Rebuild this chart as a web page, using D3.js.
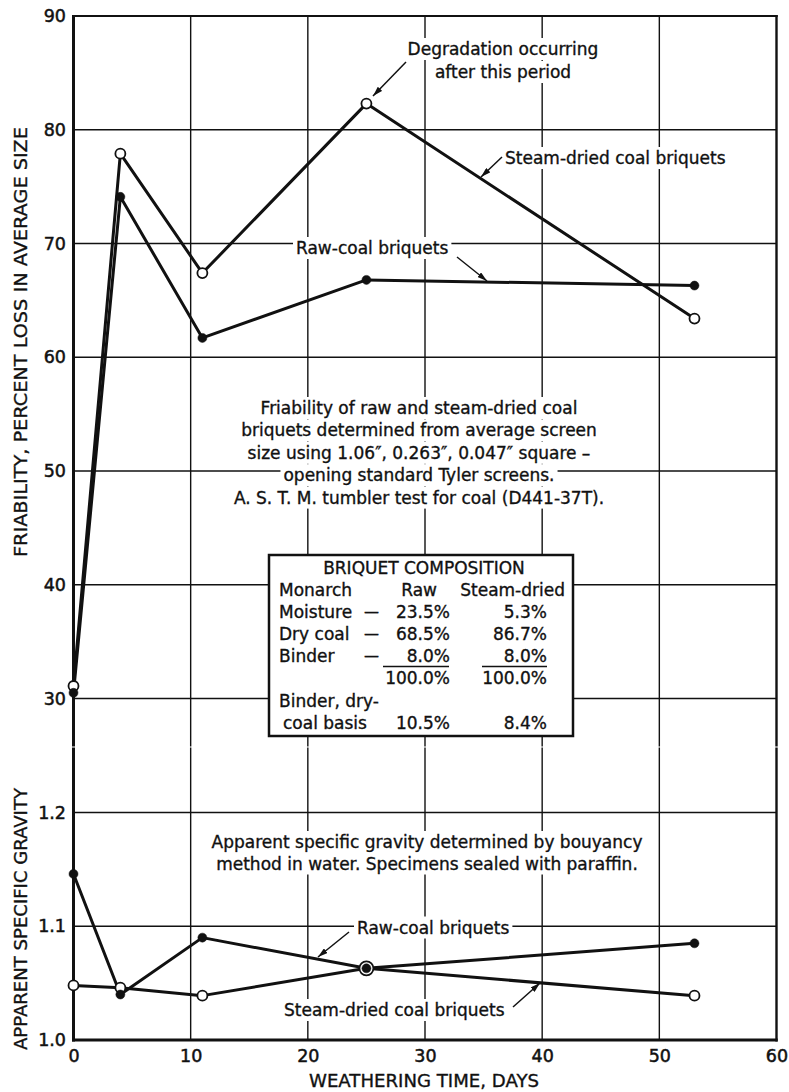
<!DOCTYPE html>
<html>
<head>
<meta charset="utf-8">
<script src="https://cdn.jsdelivr.net/npm/d3@7"></script>
<style>
  body { margin: 0; background: #fff; }
  svg { display: block; }
  text { font-family: "DejaVu Sans", "Liberation Sans", sans-serif; fill: #111; stroke: #111; stroke-width: 0.35px; }
</style>
</head>
<body>
<svg id="chart" width="789" height="1092"></svg>
<script>
// values
const days = [0, 4, 11, 25, 53];
const rawFriability = [30.5, 74.1, 61.7, 66.8, 66.3];
const steamFriability = [31.1, 77.9, 67.4, 82.3, 63.4];
const rawGravity = [1.146, 1.040, 1.090, 1.063, 1.085];
const steamGravity = [1.048, 1.046, 1.039, 1.063, 1.039];

const dayTicks = [0, 10, 20, 30, 40, 50, 60];
const friabilityTicks = [30, 40, 50, 60, 70, 80, 90];
const gravityTicks = [1.0, 1.1, 1.2];

const compositionTitle = 'BRIQUET COMPOSITION';
const compositionHeader = ['Monarch', 'Raw', 'Steam-dried'];
const compositionRows = [
  ['Moisture', '23.5%', '5.3%'],
  ['Dry coal', '68.5%', '86.7%'],
  ['Binder', '8.0%', '8.0%'],
  ['', '100.0%', '100.0%'],
];
const basisLabel = ['Binder, dry-', 'coal basis'];
const basisValues = ['10.5%', '8.4%'];

const friabilityNote = [
  'Friability of raw and steam-dried coal',
  'briquets determined from average screen',
  'size using 1.06\u2033, 0.263\u2033, 0.047\u2033 square \u2013',
  'opening standard Tyler screens.',
  'A. S. T. M. tumbler test for coal (D441-37T).',
];
const gravityNote = [
  'Apparent specific gravity determined by bouyancy',
  'method in water.  Specimens sealed with paraffin.',
];

class BriquetChart {
  constructor(svg) {
    this.svg = svg;
    this.x = d3.scaleLinear().domain([0, 60]).range([73.5, 776.5]);
    this.yTop = d3.scaleLinear().domain([30, 90]).range([698.5, 16]);
    this.yBot = d3.scaleLinear().domain([1.0, 1.2]).range([1040, 812.5]);

    let defs = svg.append('defs');
    defs.append('marker')
      .attr('id', 'head')
      .attr('viewBox', '0 0 10 6')
      .attr('refX', 10).attr('refY', 3)
      .attr('markerWidth', 10).attr('markerHeight', 6)
      .attr('markerUnits', 'userSpaceOnUse')
      .attr('orient', 'auto')
      .append('path')
      .attr('d', 'M0,0 L10,3 L0,6 Z')
      .attr('fill', '#111');

    this.gGrid = svg.append('g');
    this.gNotes = svg.append('g');
    this.gBox = svg.append('g');
    this.gData = svg.append('g');
    this.gAxes = svg.append('g');
  }

  drawGrid() {
    let x = this.x, yTop = this.yTop, yBot = this.yBot;
    let top = yTop(90), bottom = yBot(1.0);

    this.gGrid.selectAll('line.v')
      .data(dayTicks.slice(1, -1))
      .join('line')
      .attr('class', 'v')
      .attr('x1', d => x(d)).attr('x2', d => x(d))
      .attr('y1', top).attr('y2', bottom)
      .attr('stroke', '#111').attr('stroke-width', 1.4);

    this.gGrid.selectAll('line.ht')
      .data(friabilityTicks.slice(0, -1))
      .join('line')
      .attr('class', 'ht')
      .attr('x1', x(0)).attr('x2', x(60))
      .attr('y1', d => yTop(d)).attr('y2', d => yTop(d))
      .attr('stroke', '#111').attr('stroke-width', 1.4);

    this.gGrid.selectAll('line.hb')
      .data(gravityTicks.slice(1))
      .join('line')
      .attr('class', 'hb')
      .attr('x1', x(0)).attr('x2', x(60))
      .attr('y1', d => yBot(d)).attr('y2', d => yBot(d))
      .attr('stroke', '#111').attr('stroke-width', 1.4);

    // frame
    let frame = [
      { x1: x(0), y1: top - 1, x2: x(0), y2: bottom + 1.5, w: 3 },
      { x1: x(0) - 1.5, y1: bottom, x2: x(60) + 1.2, y2: bottom, w: 3 },
      { x1: x(0) - 1.5, y1: top, x2: x(60) + 1.2, y2: top, w: 2 },
      { x1: x(60), y1: top - 1, x2: x(60), y2: bottom + 1.5, w: 2.4 },
    ];
    this.gGrid.selectAll('line.frame')
      .data(frame)
      .join('line')
      .attr('class', 'frame')
      .attr('x1', d => d.x1).attr('y1', d => d.y1)
      .attr('x2', d => d.x2).attr('y2', d => d.y2)
      .attr('stroke', '#111').attr('stroke-width', d => d.w);

    // small break between the two panels
    this.gGrid.append('rect')
      .attr('x', x(0) - 3).attr('y', 746.5)
      .attr('width', x(60) - x(0) + 6).attr('height', 1)
      .attr('fill', '#fff');
  }

  note(parent, x, y, str, anchor = 'middle', pad = 3) {
    let t = parent.append('text')
      .attr('x', x).attr('y', y)
      .attr('text-anchor', anchor)
      .attr('font-size', 17)
      .text(str);
    let b = t.node().getBBox();
    parent.insert('rect', () => t.node())
      .attr('x', b.x - pad).attr('y', b.y - 1)
      .attr('width', b.width + pad * 2).attr('height', b.height + 2)
      .attr('fill', '#fff');
    return t;
  }

  drawNotes() {
    let g = this.gNotes;
    this.note(g, 503, 55, 'Degradation occurring');
    this.note(g, 503, 78, 'after this period');
    this.note(g, 505, 164, 'Steam-dried coal briquets', 'start');
    this.note(g, 296, 254, 'Raw-coal briquets', 'start');

    friabilityNote.forEach((s, i) => this.note(g, 419, 414 + i * 22.4, s));
    gravityNote.forEach((s, i) => this.note(g, 427, 848 + i * 21.5, s));

    this.note(g, 357, 933.5, 'Raw-coal briquets', 'start');
    this.note(g, 284, 1016, 'Steam-dried coal briquets', 'start');

    let arrows = [
      [406, 62, 373, 96],
      [502, 157, 481, 177],
      [457, 257, 487, 281],
      [349, 932, 318, 957],
      [513, 1007, 540, 983],
    ];
    this.gAxes.selectAll('line.arrow')
      .data(arrows)
      .join('line')
      .attr('class', 'arrow')
      .attr('x1', d => d[0]).attr('y1', d => d[1])
      .attr('x2', d => d[2]).attr('y2', d => d[3])
      .attr('stroke', '#111').attr('stroke-width', 1.5)
      .attr('marker-end', 'url(#head)');
  }

  drawBox() {
    let g = this.gBox;
    g.append('rect')
      .attr('x', 269).attr('y', 555)
      .attr('width', 304).attr('height', 181)
      .attr('fill', '#fff')
      .attr('stroke', '#111').attr('stroke-width', 2.5);

    let cell = (x, y, s, anchor) => g.append('text')
      .attr('x', x).attr('y', y)
      .attr('text-anchor', anchor)
      .attr('font-size', 17)
      .text(s);

    cell(424, 574, compositionTitle, 'middle');
    cell(279, 595.5, compositionHeader[0], 'start');
    cell(437, 595.5, compositionHeader[1], 'end');
    cell(565, 595.5, compositionHeader[2], 'end');

    compositionRows.forEach((r, i) => {
      let y = 617.5 + i * 22;
      if (r[0]) {
        cell(279, y, r[0], 'start');
        cell(364, y - 1, '\u2014', 'start').attr('font-size', 15);
      }
      cell(450, y, r[1], 'end');
      cell(547, y, r[2], 'end');
    });

    // sum underlines
    [[383, 449], [482, 547]].forEach(([a, b]) => g.append('line')
      .attr('x1', a).attr('x2', b)
      .attr('y1', 666.5).attr('y2', 666.5)
      .attr('stroke', '#111').attr('stroke-width', 1.6));

    cell(279, 706.5, basisLabel[0], 'start');
    cell(283, 728.5, basisLabel[1], 'start');
    cell(450, 728.5, basisValues[0], 'end');
    cell(547, 728.5, basisValues[1], 'end');
  }

  drawSeries(values, yScale) {
    let pts = days.map((d, i) => [this.x(d), yScale(values[i])]);
    this.gData.append('path')
      .attr('d', d3.line()(pts))
      .attr('fill', 'none')
      .attr('stroke', '#111')
      .attr('stroke-width', 3)
      .attr('stroke-linejoin', 'round');
    return pts;
  }

  drawMarkers(pts, open) {
    this.gData.append('g')
      .selectAll('circle')
      .data(pts)
      .join('circle')
      .attr('cx', d => d[0]).attr('cy', d => d[1])
      .attr('r', open ? 5 : 4.5)
      .attr('fill', open ? '#fff' : '#111')
      .attr('stroke', '#111')
      .attr('stroke-width', open ? 1.8 : 0.5);
  }

  drawAxes() {
    let g = this.gAxes;
    let left = g.append('g')
      .attr('transform', `translate(${this.x(0)},0)`);
    left.append('g')
      .call(d3.axisLeft(this.yTop).tickValues(friabilityTicks).tickSize(0).tickPadding(7.5));
    left.append('g')
      .call(d3.axisLeft(this.yBot).tickValues(gravityTicks).tickSize(0).tickPadding(7.5)
        .tickFormat(d3.format('.1f')));
    g.append('g')
      .attr('transform', `translate(0,${this.yBot(1.0)})`)
      .call(d3.axisBottom(this.x).tickValues(dayTicks).tickSize(0).tickPadding(10));

    g.selectAll('.domain').remove();
    g.selectAll('.tick text')
      .attr('font-family', null)
      .attr('font-size', 17.5)
      .attr('fill', '#111')
      .style('stroke-width', '0.5px');

    g.append('text')
      .attr('x', 424).attr('y', 1087)
      .attr('text-anchor', 'middle')
      .attr('font-size', 17.5)
      .attr('textLength', 230)
      .attr('lengthAdjust', 'spacingAndGlyphs')
      .text('WEATHERING TIME, DAYS');

    g.append('text')
      .attr('transform', 'translate(27,342) rotate(-90)')
      .attr('text-anchor', 'middle')
      .attr('font-size', 17.5)
      .attr('textLength', 430)
      .attr('lengthAdjust', 'spacingAndGlyphs')
      .text('FRIABILITY, PERCENT LOSS IN AVERAGE SIZE');

    g.append('text')
      .attr('transform', 'translate(27,919) rotate(-90)')
      .attr('text-anchor', 'middle')
      .attr('font-size', 17.5)
      .attr('textLength', 262)
      .attr('lengthAdjust', 'spacingAndGlyphs')
      .text('APPARENT SPECIFIC GRAVITY');
  }

  render() {
    this.drawGrid();
    this.drawNotes();
    this.drawBox();
    let rawTop = this.drawSeries(rawFriability, this.yTop);
    let steamTop = this.drawSeries(steamFriability, this.yTop);
    let rawBot = this.drawSeries(rawGravity, this.yBot);
    let steamBot = this.drawSeries(steamGravity, this.yBot);
    this.drawMarkers(steamTop, true);
    this.drawMarkers(rawTop, false);
    // the coinciding point at 25 days is drawn as a ring round the dot
    this.gData.append('circle')
      .attr('cx', steamBot[3][0]).attr('cy', steamBot[3][1])
      .attr('r', 7).attr('fill', '#fff')
      .attr('stroke', '#111').attr('stroke-width', 1.8);
    this.drawMarkers(steamBot.filter((d, i) => i !== 3), true);
    this.drawMarkers(rawBot, false);
    this.drawAxes();
  }
}

const chart = new BriquetChart(d3.select('#chart'));
chart.render();
</script>
</body>
</html>
